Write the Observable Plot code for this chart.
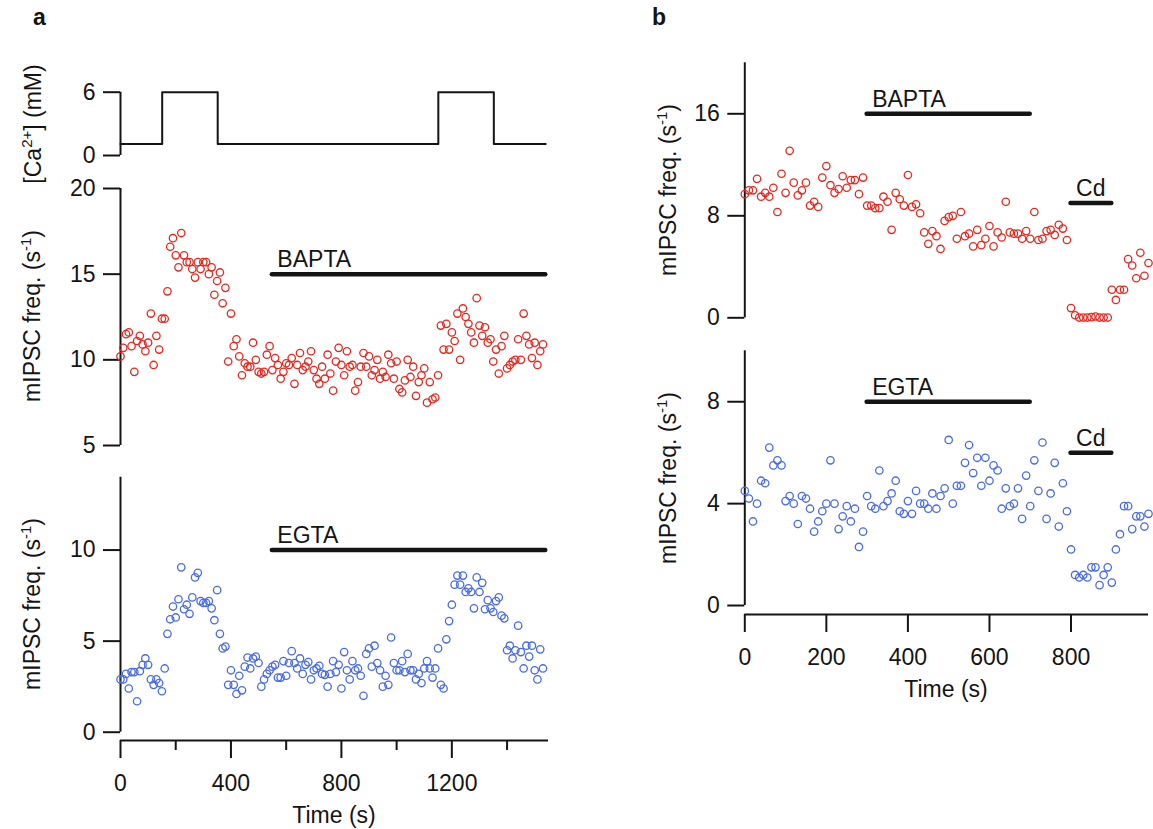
<!DOCTYPE html>
<html>
<head>
<meta charset="utf-8">
<script src="https://cdn.jsdelivr.net/npm/d3@7"></script>
<script src="https://cdn.jsdelivr.net/npm/@observablehq/plot@0.6"></script>
<style>
  html, body { margin: 0; padding: 0; background: #fff; }
  #fig { position: relative; width: 1153px; height: 829px; overflow: hidden;
         font-family: "Liberation Sans", Arial, Helvetica, sans-serif; }
  #fig svg { position: absolute; }
</style>
</head>
<body>
<div id="fig"></div>
<script>
// ---------------- DATA ----------------
// Panel a: sample times (s)
const timeA = [
  0,10,20,30,40,50,60,70,80,90,
  100,110,120,130,140,150,160,170,180,190,
  200,210,220,230,240,250,260,270,280,290,
  300,310,320,330,340,350,360,370,380,390,
  400,410,420,430,440,450,460,470,480,490,
  500,510,520,530,540,550,560,570,580,590,
  600,610,620,630,640,650,660,670,680,690,
  700,710,720,730,740,750,760,770,780,790,
  800,810,820,830,840,850,860,870,880,890,
  900,910,920,930,940,950,960,970,980,990,
  1000,1010,1020,1030,1040,1050,1060,1070,1080,1090,
  1100,1110,1120,1130,1140,1150,1160,1170,1180,1190,
  1200,1210,1220,1230,1240,1250,1260,1270,1280,1290,
  1300,1310,1320,1330,1340,1350,1360,1370,1380,1390,
  1400,1410,1420,1430,1440,1450,1460,1470,1480,1490,
  1500,1510,1520,1530
];
// Panel a: mIPSC frequency (s^-1) with BAPTA
const baptaA = [
  10.2,10.7,11.5,11.6,10.8,9.3,11.1,11.4,10.9,10.5,
  11.0,12.7,9.7,11.4,10.6,12.4,12.4,14.0,16.6,17.1,
  16.1,15.4,17.4,16.1,15.7,15.7,15.3,14.8,15.7,15.3,
  15.7,15.7,15.0,15.4,13.8,14.6,15.1,13.3,14.2,9.9,
  12.7,10.8,11.2,10.2,9.1,9.8,9.6,9.6,11.0,10.0,
  9.3,9.2,9.3,10.3,10.8,9.4,10.1,9.7,8.9,9.3,
  9.8,9.7,10.1,8.6,9.7,10.4,9.4,9.6,9.9,10.5,
  9.4,8.9,8.6,9.6,8.9,10.3,9.2,8.2,9.9,10.7,
  9.7,9.1,10.5,9.6,9.7,8.2,8.7,9.6,10.4,9.6,
  10.2,9.1,9.4,10.0,8.9,9.3,9.0,10.3,9.8,8.9,
  9.9,8.3,8.1,8.8,10.0,9.0,9.6,7.9,8.7,9.1,
  9.5,7.5,8.7,7.7,7.8,9.1,12.0,10.6,12.1,10.6,
  11.6,11.1,12.7,10.0,13.0,12.5,12.1,11.6,11.0,13.6,
  12.0,11.4,11.9,11.0,11.2,9.9,10.6,9.2,10.8,11.4,
  9.5,9.7,9.9,10.0,11.2,10.0,12.7,11.4,10.9,10.1,
  11.0,9.7,10.5,10.9
];
// Panel a: mIPSC frequency (s^-1) with EGTA
const egtaA = [
  2.9,2.9,3.2,2.4,3.3,3.3,1.7,3.35,3.7,4.05,
  3.7,2.9,2.6,2.9,2.7,2.25,3.5,5.4,6.2,6.9,
  6.3,7.3,9.05,6.75,7.0,6.5,7.4,8.5,8.75,7.2,
  7.1,7.1,7.2,6.8,6.15,7.8,5.4,4.6,4.7,2.6,
  3.4,2.6,2.1,3.1,2.3,3.6,4.1,3.5,4.05,4.15,
  3.8,2.5,2.9,3.2,3.4,3.6,3.7,3.0,3.0,3.9,
  3.1,3.8,4.45,3.8,3.5,4.05,3.2,3.7,3.85,2.9,
  3.4,3.5,3.65,3.2,3.15,2.5,3.2,3.9,3.3,3.7,
  2.4,4.4,3.4,2.9,3.9,3.4,3.5,3.1,2.0,4.3,
  4.6,3.6,4.75,3.8,3.4,2.5,3.1,2.6,5.2,3.8,
  3.4,3.4,3.9,3.3,4.3,3.4,3.4,2.9,3.2,2.7,
  3.5,3.9,3.5,3.0,3.5,4.6,2.6,2.4,5.1,6.1,
  7.0,8.1,8.6,8.1,8.6,7.7,7.9,7.7,6.8,8.5,
  7.7,8.2,6.75,7.25,6.8,6.6,7.2,7.4,6.4,6.25,
  4.5,4.75,4.05,4.5,5.85,4.4,3.5,4.75,4.15,4.75,
  3.4,2.9,4.55,3.5
];
// Panel a: [Ca2+] protocol (mM), step changes
const caTime = [0, 151, 352, 1151, 1352, 1540];
const caConc = [1.1, 6, 1.1, 6, 1.1, 1.1];

// Panel b: sample times (s)
const timeB = [
  0,10,20,30,40,50,60,70,80,90,
  100,110,120,130,140,150,160,170,180,190,
  200,210,220,230,240,250,260,270,280,290,
  300,310,320,330,340,350,360,370,380,390,
  400,410,420,430,440,450,460,470,480,490,
  500,510,520,530,540,550,560,570,580,590,
  600,610,620,630,640,650,660,670,680,690,
  700,710,720,730,740,750,760,770,780,790,
  800,810,820,830,840,850,860,870,880,890,
  900,910,920,930,940,950,960,970,980,990
];
const baptaB = [
  9.7,10.0,10.0,10.9,9.5,9.8,9.5,10.2,8.3,11.3,
  9.8,13.1,10.6,9.6,10.0,10.6,8.8,9.1,8.7,11.0,
  11.9,10.4,9.8,10.1,11.1,10.2,10.8,10.8,9.7,11.0,
  8.8,8.8,8.6,8.6,9.5,9.1,6.9,9.8,9.3,8.8,
  11.2,8.7,8.9,8.2,6.7,5.8,6.8,6.4,5.4,7.6,
  7.9,8.0,6.2,8.3,6.4,6.6,5.6,6.9,5.7,6.2,
  7.2,5.6,6.7,6.3,9.1,6.7,6.6,6.6,6.2,6.8,
  6.2,8.3,6.1,6.2,6.8,6.9,6.5,7.3,7.0,6.1,
  0.76,0.2,0.02,0.02,0.02,0.05,0.1,0.02,0.02,0.02,
  2.2,1.4,2.2,2.2,4.6,4.1,3.1,5.1,3.3,4.3
];
const egtaB = [
  4.5,4.2,3.3,4.0,4.9,4.8,6.2,5.5,5.7,5.5,
  4.1,4.3,4.0,3.2,4.3,4.2,3.8,2.9,3.3,3.7,
  4.0,5.7,4.0,3.0,3.5,3.9,3.3,3.8,2.3,2.9,
  4.3,3.9,3.8,5.3,3.9,4.1,4.4,4.9,3.7,3.6,
  4.1,3.6,4.5,4.0,4.0,3.8,4.4,3.8,4.3,4.6,
  6.5,4.0,4.7,4.7,5.6,6.3,5.2,5.8,4.7,5.8,
  4.9,5.5,5.3,3.8,4.6,3.9,4.0,4.6,3.4,5.1,
  3.9,5.7,4.5,6.4,3.4,4.4,5.6,3.1,4.8,3.7,
  2.2,1.2,1.1,1.2,1.1,1.5,1.5,0.8,1.2,1.5,
  0.9,2.2,2.8,3.9,3.9,3.0,3.5,3.5,3.1,3.6
];

// Drug application bars (label, start s, end s, level on y)
const barLabels = ["BAPTA", "EGTA", "BAPTA", "Cd", "EGTA", "Cd"];
const barStart  = [550, 550, 300, 800, 300, 800];
const barEnd    = [1540, 1540, 700, 900, 700, 900];
const barLevel  = [15, 10, 16, 9, 8, 6];

// Tick values
const ticksCa = [0, 6];
const ticksBaptaA = [5, 10, 15, 20];
const ticksEgtaA = [0, 5, 10];
const ticksXA = [0, 400, 800, 1200];
const minorXA = [200, 600, 1000, 1400];
const ticksBaptaB = [0, 8, 16];
const ticksEgtaB = [0, 4, 8];
const ticksXB = [0, 200, 400, 600, 800];

// ---------------- BUILD ----------------
const FONT = '"Liberation Sans", Arial, Helvetica, sans-serif';
const INK = "#141414";
const RED = "#e5281f";
const BLUE = "#4a6be3";
const fmt = d3.format("d");
const fig = document.getElementById("fig");

const rows = (xs, ys) => xs.map((t, i) => ({t, v: ys[i]}));
const bars = barLabels.map((label, i) => ({label, start: barStart[i], end: barEnd[i], level: barLevel[i]}));

function place(svg, left, top) {
  svg.style.left = left + "px";
  svg.style.top = top + "px";
  svg.style.position = "absolute";
  fig.appendChild(svg);
}
function mk(opts) {
  return Plot.plot(Object.assign({
    style: {fontFamily: FONT, fontSize: "23px", color: INK, background: "none", overflow: "visible"}
  }, opts));
}
function yAxis(ticks) {
  return Plot.axisY({ticks, tickSize: 17, tickPadding: 8, strokeWidth: 2, label: null, fontSize: 23, tickFormat: fmt});
}
function barMarks(sel) {
  return [
    Plot.ruleY(sel, {x1: "start", x2: "end", y: "level", stroke: INK, strokeWidth: 4.5, strokeLinecap: "round"}),
    Plot.text(sel, {x: "start", y: "level", text: "label", textAnchor: "start", lineAnchor: "bottom",
                    dx: 5, dy: -7, fontSize: 23, fill: INK})
  ];
}
function dots(data, color) {
  return Plot.dot(data, {x: "t", y: "v", r: 3.7, stroke: color, strokeWidth: 1.3, fill: "none"});
}

// Panel a geometry: x range 120..548 px
const AW = 560, AML = 120, AMR = 12, AX = [0, 1550];

// Ca protocol
place(mk({
  width: AW, height: 100, marginLeft: AML, marginRight: AMR, marginTop: 11.7, marginBottom: 25,
  x: {domain: AX, axis: null},
  y: {domain: [0, 6]},
  marks: [
    yAxis(ticksCa),
    Plot.ruleX([0], {stroke: INK, strokeWidth: 2}),
    Plot.line(rows(caTime, caConc), {x: "t", y: "v", curve: "step-after", stroke: INK, strokeWidth: 2})
  ]
}), 0, 80);

// BAPTA panel a
place(mk({
  width: AW, height: 290, marginLeft: AML, marginRight: AMR, marginTop: 18, marginBottom: 15,
  x: {domain: AX, axis: null},
  y: {domain: [5, 20]},
  marks: [
    yAxis(ticksBaptaA),
    Plot.ruleX([0], {stroke: INK, strokeWidth: 2}),
    dots(rows(timeA, baptaA), RED),
    ...barMarks([bars[0]])
  ]
}), 0, 170);

// EGTA panel a (with time axis)
const yLoA = -0.455;
place(mk({
  width: AW, height: 369, marginLeft: AML, marginRight: AMR, marginTop: 16.7, marginBottom: 89,
  x: {domain: AX},
  y: {domain: [yLoA, 14]},
  marks: [
    yAxis(ticksEgtaA),
    Plot.axisX({ticks: ticksXA, tickSize: 18, tickPadding: 16, strokeWidth: 2, label: null, fontSize: 23, tickFormat: fmt}),
    Plot.axisX({ticks: minorXA, tickSize: 10, strokeWidth: 2, label: null, tickFormat: () => ""}),
    Plot.ruleX([0], {y1: 0, y2: 14, stroke: INK, strokeWidth: 2}),
    Plot.ruleY([yLoA], {stroke: INK, strokeWidth: 2}),
    dots(rows(timeA, egtaA), BLUE),
    ...barMarks([bars[1]])
  ]
}), 0, 460);

// Panel b geometry: x range 744.3..1148 px
const BW = 593, BML = 184.3, BMR = 5, BX = [0, 990];

place(mk({
  width: BW, height: 300, marginLeft: BML, marginRight: BMR, marginTop: 22.3, marginBottom: 22.7,
  x: {domain: BX, axis: null},
  y: {domain: [0, 20]},
  marks: [
    yAxis(ticksBaptaB),
    Plot.ruleX([0], {stroke: INK, strokeWidth: 2}),
    dots(rows(timeB, baptaB), RED),
    ...barMarks([bars[2], bars[3]])
  ]
}), 560, 40);

const yLoB = -0.353;
place(mk({
  width: BW, height: 499, marginLeft: BML, marginRight: BMR, marginTop: 20.3, marginBottom: 215,
  x: {domain: BX},
  y: {domain: [yLoB, 10]},
  marks: [
    yAxis(ticksEgtaB),
    Plot.axisX({ticks: ticksXB, tickSize: 18, tickPadding: 16, strokeWidth: 2, label: null, fontSize: 23, tickFormat: fmt}),
    Plot.ruleX([0], {y1: 0, y2: 10, stroke: INK, strokeWidth: 2}),
    Plot.ruleY([yLoB], {stroke: INK, strokeWidth: 2}),
    dots(rows(timeB, egtaB), BLUE),
    ...barMarks([bars[4], bars[5]])
  ]
}), 560, 330);

// ---------------- TEXT OVERLAY (axis titles, panel letters) ----------------
const NS = "http://www.w3.org/2000/svg";
const ov = document.createElementNS(NS, "svg");
ov.setAttribute("width", 1153); ov.setAttribute("height", 829);
ov.style.left = "0px"; ov.style.top = "0px"; ov.style.overflow = "visible";
ov.setAttribute("font-family", FONT);
ov.setAttribute("font-size", 23);
ov.setAttribute("fill", INK);
const freqLabel = 'mIPSC freq. (s<tspan dy="-9" font-size="15">-1</tspan><tspan dy="9">)</tspan>';
const caLabel = '[Ca<tspan dy="-9" font-size="15">2+</tspan><tspan dy="9">] (mM)</tspan>';
ov.innerHTML = `
  <text x="33" y="25" font-weight="bold">a</text>
  <text x="652" y="25" font-weight="bold">b</text>
  <text transform="translate(41,124) rotate(-90)" text-anchor="middle">${caLabel}</text>
  <text transform="translate(40,316) rotate(-90)" text-anchor="middle">${freqLabel}</text>
  <text transform="translate(40,604) rotate(-90)" text-anchor="middle">${freqLabel}</text>
  <text transform="translate(676,190) rotate(-90)" text-anchor="middle">${freqLabel}</text>
  <text transform="translate(676,478) rotate(-90)" text-anchor="middle">${freqLabel}</text>
  <text x="334" y="823" text-anchor="middle">Time (s)</text>
  <text x="946" y="697" text-anchor="middle">Time (s)</text>
`;
fig.appendChild(ov);
</script>
</body>
</html>
